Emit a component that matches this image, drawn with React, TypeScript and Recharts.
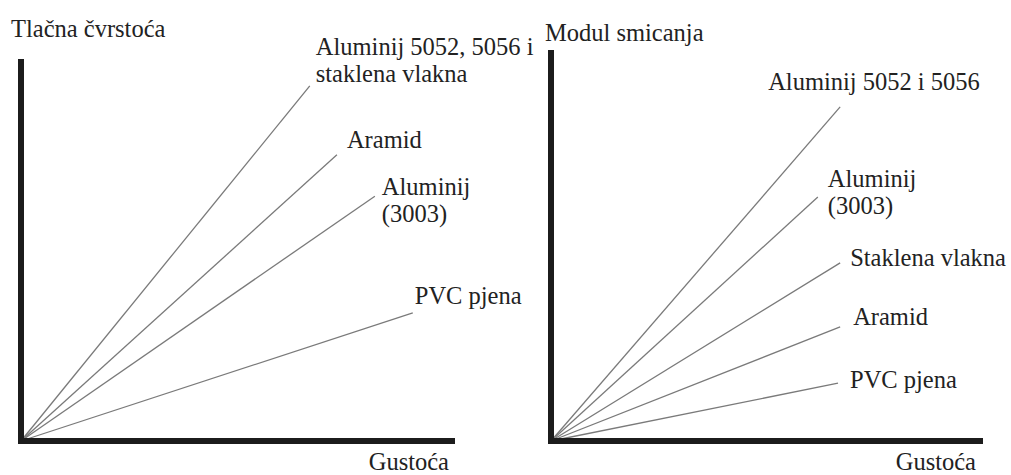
import React from "react"
import { LineChart, Line, XAxis, YAxis, ReferenceLine, LabelList } from "recharts"

// Lijevi dijagram: tlačna čvrstoća u ovisnosti o gustoći (relativne jedinice 0-100)
const leftNames = ["al5052", "aramid", "al3003", "pvc"]
const leftLabels = [["Aluminij 5052, 5056 i", "staklena vlakna"], ["Aramid"], ["Aluminij", "(3003)"], ["PVC pjena"]]
const leftEndX = [67.0, 73.3, 82.1, 90.9]
const leftEndY = [93.7, 75.5, 64.6, 33.8]

// Desni dijagram: modul smicanja u ovisnosti o gustoći
const rightNames = ["al5052", "al3003", "staklo", "aramid", "pvc"]
const rightLabels = [["Aluminij 5052 i 5056"], ["Aluminij", "(3003)"], ["Staklena vlakna"], ["Aramid"], ["PVC pjena"]]
const rightEndX = [67.4, 62.2, 67.4, 67.4, 66.9]
const rightEndY = [86.1, 62.9, 45.9, 29.4, 14.9]

// label placement relative to the line end, px
const leftLabelOffsets = [[6, -31], [10, -7], [7, -1], [2, -9]]
const rightLabelOffsets = [[-72, -17], [10, -10], [10, 3], [13, -2], [12, 5]]

const FONT = "'Liberation Serif', 'Times New Roman', serif"
const TEXT = "#222"
const LINE = "#7a7a7a"
const AXIS = "#1c1c1c"
const LINE_GAP = 27
const textStyle = { fontFamily: FONT, fontSize: 24.5 }

type PanelProps = {
  names: string[]
  labels: string[][]
  endX: number[]
  endY: number[]
  offsets: number[][]
  width: number
  margin: { top: number; right: number; bottom: number; left: number }
  yTitle: { text: string; x: number; y: number }
  xTitle: { text: string; x: number; y: number }
}

function Panel({ names, labels, endX, endY, offsets, width, margin, yTitle, xTitle }: PanelProps) {
  return (
    <LineChart width={width} height={475} margin={margin} style={{ overflow: "visible" }}>
      <XAxis type="number" dataKey="x" domain={[0, 100]} hide />
      <YAxis type="number" dataKey="y" domain={[0, 100]} hide />
      {names.map((name, i) => (
        <Line
          key={name}
          data={[
            { x: 0, y: 0 },
            { x: endX[i], y: endY[i] },
          ]}
          dataKey="y"
          stroke={LINE}
          strokeWidth={1.3}
          dot={false}
          isAnimationActive={false}
        >
          <LabelList
            dataKey="y"
            content={(p: any) => {
              if (p.index !== 1) return null
              const [dx, dy] = offsets[i]
              return (
                <text style={textStyle} fill={TEXT}>
                  {labels[i].map((line, j) => (
                    <tspan key={j} x={p.x + dx} y={p.y + dy + j * LINE_GAP}>
                      {line}
                    </tspan>
                  ))}
                </text>
              )
            }}
          />
        </Line>
      ))}
      <ReferenceLine x={0} stroke={AXIS} strokeWidth={6} strokeLinecap="square" />
      <ReferenceLine y={0} stroke={AXIS} strokeWidth={6} strokeLinecap="square" />
      <text x={yTitle.x} y={yTitle.y} style={textStyle} fill={TEXT}>
        {yTitle.text}
      </text>
      <text x={xTitle.x} y={xTitle.y} style={textStyle} fill={TEXT} textAnchor="end">
        {xTitle.text}
      </text>
    </LineChart>
  )
}

export default function App() {
  return (
    <div style={{ position: "absolute", left: 0, top: 0, width: 1011, height: 475, background: "#fff", overflow: "hidden" }}>
      <div style={{ position: "absolute", left: 0, top: 0 }}>
        <Panel
          names={leftNames}
          labels={leftLabels}
          endX={leftEndX}
          endY={leftEndY}
          offsets={leftLabelOffsets}
          width={540}
          margin={{ top: 62, right: 88, bottom: 34, left: 21 }}
          yTitle={{ text: "Tlačna čvrstoća", x: 11, y: 37 }}
          xTitle={{ text: "Gustoća", x: 449, y: 470 }}
        />
      </div>
      <div style={{ position: "absolute", left: 540, top: 0 }}>
        <Panel
          names={rightNames}
          labels={rightLabels}
          endX={rightEndX}
          endY={rightEndY}
          offsets={rightLabelOffsets}
          width={471}
          margin={{ top: 53, right: 31, bottom: 34, left: 11 }}
          yTitle={{ text: "Modul smicanja", x: 5, y: 41 }}
          xTitle={{ text: "Gustoća", x: 436, y: 470 }}
        />
      </div>
    </div>
  )
}
